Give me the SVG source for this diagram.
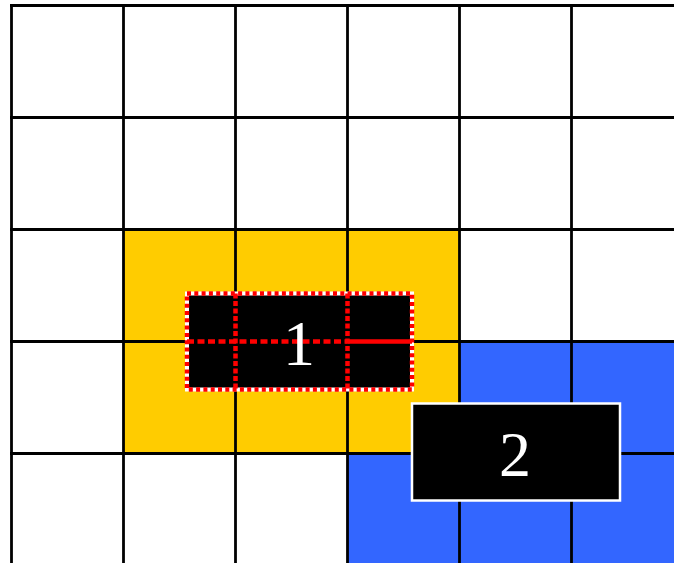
<svg xmlns="http://www.w3.org/2000/svg" width="674" height="563" viewBox="0 0 674 563">
  <style>
    .grid line { stroke: #000; stroke-width: 2.8; }
    .lbl { font-family: "Liberation Serif", "Times New Roman", serif; font-size: 64px; fill: #fff; text-anchor: middle; }
    .red { stroke: #ff0000; stroke-width: 4.5; fill: none; }
  </style>
  <rect x="0" y="0" width="674" height="563" fill="#fff"/>
  <g id="regions">
    <rect id="yellow" x="123.5" y="229.5" width="336" height="224" fill="#ffcc00"/>
    <path id="blue" d="M459.5,341.5 H674 V563 H347.5 V453.5 H459.5 Z" fill="#3366ff"/>
  </g>
  <g class="grid" id="grid">
    <line x1="11.5" y1="4" x2="11.5" y2="563"/>
    <line x1="123.5" y1="4" x2="123.5" y2="563"/>
    <line x1="235.5" y1="4" x2="235.5" y2="563"/>
    <line x1="347.5" y1="4" x2="347.5" y2="563"/>
    <line x1="459.5" y1="4" x2="459.5" y2="563"/>
    <line x1="571.5" y1="4" x2="571.5" y2="563"/>
    <line x1="10" y1="5.5" x2="674" y2="5.5"/>
    <line x1="10" y1="117.5" x2="674" y2="117.5"/>
    <line x1="10" y1="229.5" x2="674" y2="229.5"/>
    <line x1="10" y1="341.5" x2="674" y2="341.5"/>
    <line x1="10" y1="453.5" x2="674" y2="453.5"/>
  </g>
  <g id="node1">
    <rect x="187" y="293.5" width="225" height="96" fill="#000" stroke="#fff" stroke-width="4"/>
    <line class="red" x1="235.5" y1="293.5" x2="235.5" y2="389.5" stroke-dasharray="5 2.5"/>
    <line class="red" x1="347.5" y1="293.5" x2="347.5" y2="389.5" stroke-dasharray="5 2.5"/>
    <line class="red" x1="187" y1="341.5" x2="347.5" y2="341.5" stroke-dasharray="7 3.5"/>
    <line class="red" x1="347.5" y1="341.5" x2="412" y2="341.5"/>
    <rect class="red" x="187" y="293.5" width="225" height="96" stroke-dasharray="4 3.3"/>
    <text class="lbl" x="299" y="365">1</text>
  </g>
  <g id="node2">
    <rect x="412" y="403.5" width="208" height="97" fill="#000" stroke="#fff" stroke-width="2.5"/>
    <text class="lbl" x="515" y="476">2</text>
  </g>
  <g id="connectors"></g>
</svg>
